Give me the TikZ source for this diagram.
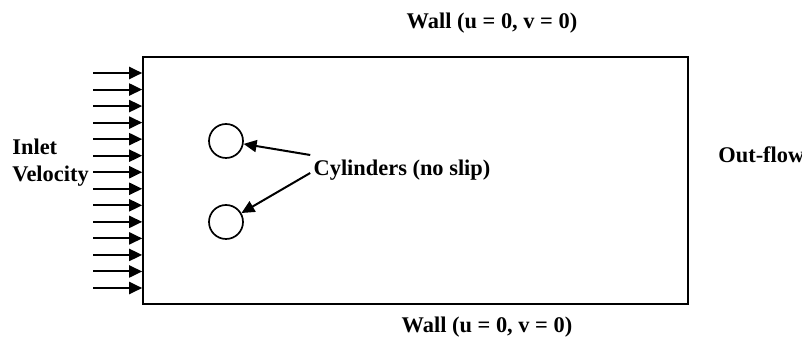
\documentclass[tikz,border=0pt]{standalone}
\usepackage{fontspec}
\setmainfont{Liberation Serif}
\usetikzlibrary{arrows.meta,positioning,calc}

\begin{document}
\begin{tikzpicture}[x=0.5pt,y=-0.5pt,
  lbl/.style={font=\fontsize{11.2}{13.4}\selectfont\bfseries,inner sep=0pt},
  flowbox/.style={draw,line width=0.8pt,minimum width=272.5pt,minimum height=123.5pt,inner sep=0pt},
  cyl/.style={draw,circle,line width=0.85pt,minimum size=17pt,inner sep=0pt},
  ar/.style={-{Triangle[length=6.5pt,width=6pt]},line width=1pt}]
\useasboundingbox (0,0) rectangle (802,340);
\node[flowbox] (box) at (415.5,180.5) {};
\node[lbl] (top) at (492,23) {Wall (u = 0, v = 0)};
\node[lbl] (bot) at (487,327) {Wall (u = 0, v = 0)};
\node[lbl,anchor=west] (out) at (718,155) {Out-flow};
\node[lbl,anchor=west,align=left] (inlet) at (12,163) {Inlet\\Velocity};
\node[cyl] (c1) at (226,141) {};
\node[cyl] (c2) at (226,222) {};
\node[lbl,inner sep=1.5pt] (cyls) at (402,170) {Cylinders (no slip)};
% inflow arrows on the left edge
\foreach \k in {0,...,13}{
  \coordinate (in\k) at (93,{73+16.54*\k});
  \draw[ar] (in\k) -- (in\k -| box.west);
}
\draw[ar] ([yshift=7.5pt]cyls.west) -- (c1);
\draw[ar] ([yshift=-1.5pt]cyls.west) -- (c2);
\end{tikzpicture}
\end{document}
